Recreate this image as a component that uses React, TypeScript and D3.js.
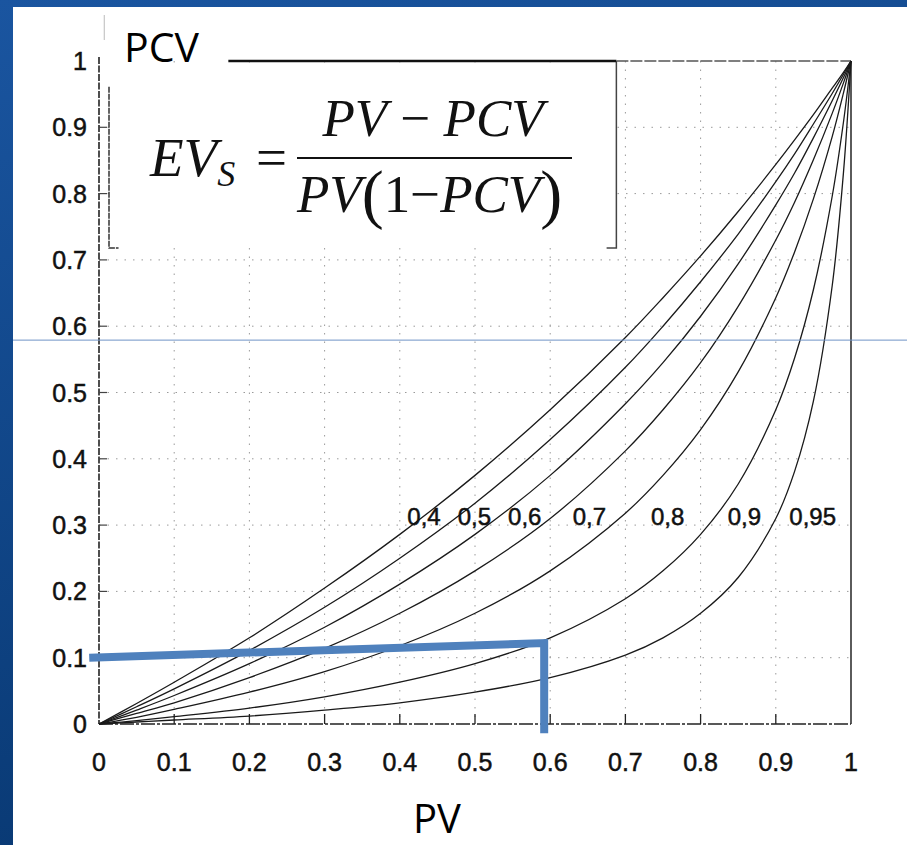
import React, { useEffect, useRef } from 'react';
import * as d3 from 'd3';

const pvValues = [0, 0.05, 0.1, 0.2, 0.3, 0.4, 0.5, 0.6, 0.7, 0.75, 0.8, 0.85, 0.9, 0.925, 0.95, 0.975, 0.99, 1];

// PCV read for each EVs curve
const ev04 = [0, 0.031, 0.063, 0.13, 0.205, 0.286, 0.375, 0.474, 0.583, 0.643, 0.706, 0.773, 0.844, 0.881, 0.919, 0.959, 0.983, 1];
const ev05 = [0, 0.026, 0.053, 0.111, 0.176, 0.25, 0.333, 0.429, 0.538, 0.6, 0.667, 0.739, 0.818, 0.86, 0.905, 0.951, 0.98, 1];
const ev06 = [0, 0.021, 0.043, 0.091, 0.146, 0.211, 0.286, 0.375, 0.483, 0.545, 0.615, 0.694, 0.783, 0.831, 0.884, 0.94, 0.975, 1];
const ev07 = [0, 0.016, 0.032, 0.07, 0.114, 0.167, 0.231, 0.31, 0.412, 0.474, 0.545, 0.63, 0.73, 0.787, 0.851, 0.921, 0.967, 1];
const ev08 = [0, 0.01, 0.022, 0.048, 0.079, 0.118, 0.167, 0.231, 0.318, 0.375, 0.444, 0.531, 0.643, 0.712, 0.792, 0.886, 0.952, 1];
const ev09 = [0, 0.005, 0.011, 0.024, 0.041, 0.063, 0.091, 0.13, 0.189, 0.231, 0.286, 0.362, 0.474, 0.552, 0.655, 0.796, 0.908, 1];
const ev095 = [0, 0.003, 0.006, 0.012, 0.021, 0.032, 0.048, 0.07, 0.104, 0.13, 0.167, 0.221, 0.31, 0.381, 0.487, 0.661, 0.832, 1];

const curves = [ev04, ev05, ev06, ev07, ev08, ev09, ev095];
const curveLabels = ['0,4', '0,5', '0,6', '0,7', '0,8', '0,9', '0,95'];
const curveLabelPv = [0.41, 0.477, 0.544, 0.63, 0.734, 0.836, 0.918];
const curveLabelPcv = 0.3;

const ticks = [0, 0.1, 0.2, 0.3, 0.4, 0.5, 0.6, 0.7, 0.8, 0.9, 1];
const tickLabels = ['0', '0.1', '0.2', '0.3', '0.4', '0.5', '0.6', '0.7', '0.8', '0.9', '1'];

// hand-drawn blue marker: PV 0.6 -> PCV ~0.1
const markerPv = [-0.013, 0.592, 0.592];
const markerPcv = [0.1, 0.122, -0.014];
const guidePcv = 0.579;

const W = 907;
const H = 845;

function App() {
  const svgRef = useRef<SVGSVGElement>(null);

  useEffect(() => {
    const svg = d3.select(svgRef.current);
    svg.selectAll('*').remove();

    const x = d3.scaleLinear().domain([0, 1]).range([99, 851]);
    const y = d3.scaleLinear().domain([0, 1]).range([724, 61]);

    // slide background
    const defs = svg.append('defs');
    const grad = defs.append('linearGradient').attr('id', 'bg').attr('x1', 0).attr('y1', 0).attr('x2', 0.3).attr('y2', 1);
    grad.append('stop').attr('offset', '0%').attr('stop-color', '#1a55a0');
    grad.append('stop').attr('offset', '100%').attr('stop-color', '#083872');
    svg.append('rect').attr('width', W).attr('height', H).attr('fill', 'url(#bg)');
    svg.append('rect').attr('x', 13).attr('y', 7).attr('width', W - 13).attr('height', H - 7).attr('fill', '#fff');

    // dotted grid
    const grid = svg.append('g').attr('stroke', '#9a9a9a').attr('stroke-width', 1).attr('stroke-dasharray', '1.5,7');
    ticks.slice(1, -1).forEach((t) => {
      grid.append('line').attr('x1', x(t)).attr('x2', x(t)).attr('y1', y(1)).attr('y2', y(0));
      grid.append('line').attr('x1', x(0)).attr('x2', x(1)).attr('y1', y(t)).attr('y2', y(t));
    });

    // formula box covers the grid
    svg.append('rect')
      .attr('x', x(0.0133)).attr('y', y(1) + 2)
      .attr('width', x(0.688) - x(0.0133)).attr('height', y(0.718) - y(1) - 2)
      .attr('fill', '#fff');
    svg.append('path')
      .attr('d', `M${x(0.0133)},${y(0.961)}V${y(0.718)}H${x(0.026)}`)
      .attr('fill', 'none').attr('stroke', '#333').attr('stroke-width', 1.5).attr('stroke-dasharray', '6,1');
    svg.append('path')
      .attr('d', `M${x(0.688)},${y(1)}V${y(0.718)}H${x(0.675)}`)
      .attr('fill', 'none').attr('stroke', '#444').attr('stroke-width', 1.5);

    // frame
    svg.append('line').attr('x1', x(0)).attr('x2', x(0)).attr('y1', y(1.006)).attr('y2', y(0))
      .attr('stroke', '#222').attr('stroke-width', 1.6).attr('stroke-dasharray', '7,1.5');
    svg.append('line').attr('x1', x(0)).attr('x2', x(1)).attr('y1', y(0)).attr('y2', y(0))
      .attr('stroke', '#222').attr('stroke-width', 1.6).attr('stroke-dasharray', '14,2,3,2');
    svg.append('line').attr('x1', x(1)).attr('x2', x(1)).attr('y1', y(1)).attr('y2', y(0))
      .attr('stroke', '#333').attr('stroke-width', 1.6);
    svg.append('line').attr('x1', x(0.172)).attr('x2', x(0.688)).attr('y1', y(1)).attr('y2', y(1))
      .attr('stroke', '#111').attr('stroke-width', 2.6);
    svg.append('line').attr('x1', x(0.688)).attr('x2', x(1)).attr('y1', y(1)).attr('y2', y(1))
      .attr('stroke', '#555').attr('stroke-width', 1.6).attr('stroke-dasharray', '12,2');
    svg.append('line').attr('x1', x(0.007)).attr('x2', x(0.007)).attr('y1', 15).attr('y2', 40)
      .attr('stroke', '#bbb').attr('stroke-width', 1);

    // ticks
    ticks.slice(1, -1).forEach((t) => {
      svg.append('line').attr('x1', x(t)).attr('x2', x(t)).attr('y1', y(0)).attr('y2', y(0) - 10)
        .attr('stroke', '#222').attr('stroke-width', 1.3);
      svg.append('line').attr('x1', x(0)).attr('x2', x(0) + 8).attr('y1', y(t)).attr('y2', y(t))
        .attr('stroke', '#444').attr('stroke-width', 1.2);
    });

    // tick labels (scanned print is a bit heavy, hence the thin stroke)
    const tickFont = '"Liberation Sans", Arial, sans-serif';
    svg.append('g').selectAll('text').data(ticks).enter().append('text')
      .attr('x', (d) => x(d)).attr('y', 771)
      .attr('text-anchor', 'middle').attr('font-family', tickFont).attr('font-size', 25)
      .attr('fill', '#111').attr('stroke', '#111').attr('stroke-width', 0.5)
      .text((d, i) => tickLabels[i]);
    svg.append('g').selectAll('text').data(ticks).enter().append('text')
      .attr('x', 87).attr('y', (d) => y(d)).attr('dy', '0.36em')
      .attr('text-anchor', 'end').attr('font-family', tickFont).attr('font-size', 25)
      .attr('fill', '#111').attr('stroke', '#111').attr('stroke-width', 0.5)
      .text((d, i) => tickLabels[i]);

    // curves
    const line = d3.line<number>()
      .x((d, i) => x(pvValues[i]))
      .y((d) => y(d))
      .curve(d3.curveCatmullRom.alpha(0.5));
    svg.append('g').selectAll('path').data(curves).enter().append('path')
      .attr('d', (d) => line(d))
      .attr('fill', 'none').attr('stroke', '#1a1a1a').attr('stroke-width', 1.3);

    // curve labels
    svg.append('g').selectAll('text').data(curveLabels).enter().append('text')
      .attr('x', (d, i) => x(curveLabelPv[i])).attr('y', y(curveLabelPcv))
      .attr('font-family', tickFont).attr('font-size', 24)
      .attr('fill', '#111').attr('stroke', '#111').attr('stroke-width', 0.5)
      .text((d) => d);

    // formula
    const serif = '"Liberation Serif", "Times New Roman", serif';
    const f = svg.append('g').attr('font-family', serif).attr('fill', '#111');
    const ev = f.append('text').attr('x', 150).attr('y', 176).attr('font-size', 55).attr('font-style', 'italic');
    ev.append('tspan').text('EV');
    ev.append('tspan').attr('font-size', 36).attr('dy', 10).text('S');
    f.append('text').attr('x', 256).attr('y', 176).attr('font-size', 55).text('=');
    f.append('line').attr('x1', 297).attr('x2', 572).attr('y1', 158).attr('y2', 158).attr('stroke', '#111').attr('stroke-width', 2.2);
    const num = f.append('text').attr('x', 433).attr('y', 136).attr('font-size', 53).attr('text-anchor', 'middle');
    num.append('tspan').attr('font-style', 'italic').text('PV');
    num.append('tspan').text(' \u2212 ');
    num.append('tspan').attr('font-style', 'italic').text('PCV');
    const den = f.append('text').attr('x', 297).attr('y', 212).attr('font-size', 53);
    den.append('tspan').attr('font-style', 'italic').text('PV');
    den.append('tspan').attr('font-size', 66).attr('dy', 4).text('(');
    den.append('tspan').attr('dy', -4).text('1\u2212');
    den.append('tspan').attr('font-style', 'italic').text('PCV');
    den.append('tspan').attr('font-size', 66).attr('dy', 4).text(')');

    // axis titles
    const sans = '"Open Sans", "Noto Sans", sans-serif';
    svg.append('text').attr('x', 124).attr('y', 62).attr('font-family', sans).attr('font-size', 41).attr('fill', '#000').text('PCV');
    svg.append('text').attr('x', 437).attr('y', 833).attr('text-anchor', 'middle').attr('font-family', sans).attr('font-size', 40).attr('fill', '#000').text('PV');

    // thin blue guide line
    svg.append('line').attr('x1', 13).attr('x2', W).attr('y1', y(guidePcv)).attr('y2', y(guidePcv))
      .attr('stroke', '#6f93c6').attr('stroke-width', 1);

    // thick blue marker
    const marker = d3.line<number>().x((d) => x(d)).y((d, i) => y(markerPcv[i]));
    svg.append('path').attr('d', marker(markerPv))
      .attr('fill', 'none').attr('stroke', '#4f81bd').attr('stroke-width', 8).attr('stroke-linejoin', 'miter');
  }, []);

  return (
    <svg ref={svgRef} width={W} height={H} style={{ position: 'absolute', left: 0, top: 0 }} />
  );
}

export default App;
